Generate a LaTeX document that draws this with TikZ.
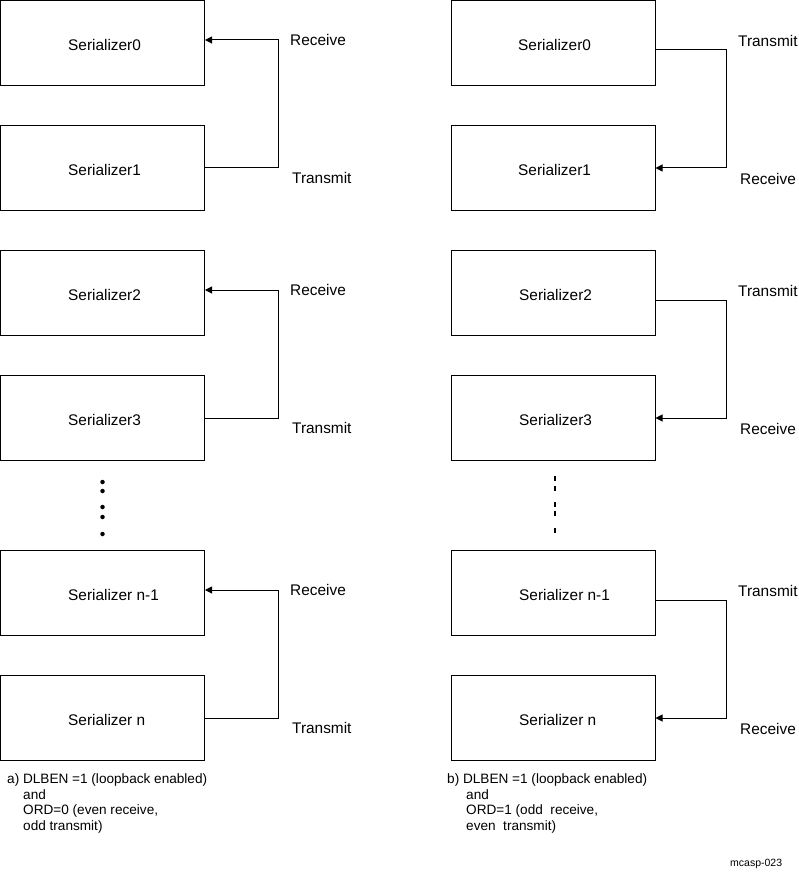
\documentclass[tikz,border=0pt]{standalone}
\usepackage{fontspec}
\setmainfont{Liberation Sans}
\usetikzlibrary{arrows.meta}
\begin{document}
\begin{tikzpicture}[x=1pt,y=-1pt,
  sbox/.style={draw, line width=1pt, minimum width=204pt, minimum height=85pt, inner sep=0pt},
  stxt/.style={anchor=west, inner sep=0pt, font=\fontsize{15.4}{18}\selectfont},
  lbl/.style={anchor=west, inner sep=0pt, font=\fontsize{15.4}{18}\selectfont},
  conn/.style={line width=1pt},
  arr/.style={conn, -{Triangle[length=7pt,width=7pt]}},
  capt/.style={anchor=base west, inner sep=0pt, font=\fontsize{13.6}{16}\selectfont},
  dotc/.style={fill, circle, inner sep=0pt, minimum size=4.5pt},
  dotr/.style={fill, rectangle, inner sep=0pt, minimum width=2.6pt, minimum height=5pt},
]
\useasboundingbox (0,0) rectangle (798,874);

% left column
\node[sbox] (La) at (102.5,43) {};
\node[sbox] (Lb) at (102.5,168) {};
\node[sbox] (Lc) at (102.5,293) {};
\node[sbox] (Ld) at (102.5,418) {};
\node[sbox] (Le) at (102.5,593) {};
\node[sbox] (Lf) at (102.5,718) {};
\node[stxt] (tLa) at (68,44.5) {Serializer0};
\node[stxt] (tLb) at (68,169.5) {Serializer1};
\node[stxt] (tLc) at (68,294.5) {Serializer2};
\node[stxt] (tLd) at (68,419.5) {Serializer3};
\node[stxt] (tLe) at (68,594.5) {Serializer n-1};
\node[stxt] (tLf) at (68,719.5) {Serializer n};

% right column
\node[sbox] (Ra) at (553,43) {};
\node[sbox] (Rb) at (553,168) {};
\node[sbox] (Rc) at (553,293) {};
\node[sbox] (Rd) at (553,418) {};
\node[sbox] (Re) at (553,593) {};
\node[sbox] (Rf) at (553,718) {};
\node[stxt] (tRa) at (518,44.5) {Serializer0};
\node[stxt] (tRb) at (518,169.5) {Serializer1};
\node[stxt] (tRc) at (519,294.5) {Serializer2};
\node[stxt] (tRd) at (519,419.5) {Serializer3};
\node[stxt] (tRe) at (519,594.5) {Serializer n-1};
\node[stxt] (tRf) at (519,719.5) {Serializer n};

% left connectors
\draw[arr] (Lb.east) -- ++(73.5,0) |- ([yshift=3pt]La.east);
\draw[arr] (Ld.east) -- ++(73.5,0) |- ([yshift=3pt]Lc.east);
\draw[arr] (Lf.east) -- ++(73.5,0) |- ([yshift=3pt]Le.east);

% right connectors
\draw[arr] ([yshift=-7pt]Ra.east) -- ++(71,0) |- (Rb.east);
\draw[arr] ([yshift=-7pt]Rc.east) -- ++(71,0) |- (Rd.east);
\draw[arr] ([yshift=-7pt]Re.east) -- ++(71,0) |- (Rf.east);

% labels
\foreach \o/\n in {0/a,250/b,550/c}{
  \node[lbl] (LR\n) at (290,40+\o) {Receive};
  \node[lbl] (LT\n) at (292,178+\o) {Transmit};
  \node[lbl] (RT\n) at (738,41+\o) {Transmit};
  \node[lbl] (RR\n) at (740,179+\o) {Receive};
}

% dots
\foreach \y [count=\i] in {482,491,507,517,534}{
  \node[dotc] (ld\i) at (102.5,\y) {};
}
\foreach \y [count=\i] in {478,488,504,513,530}{
  \node[dotr] (rd\i) at (555,\y) {};
}

% captions
\node[capt] (ca1) at (7,783) {a) DLBEN =1 (loopback enabled)};
\node[capt] (ca2) at (23,799) {and};
\node[capt] (ca3) at (23,814.5) {ORD=0 (even receive,};
\node[capt] (ca4) at (23,830) {odd transmit)};

\node[capt] (cb1) at (447,783) {b) DLBEN =1 (loopback enabled)};
\node[capt] (cb2) at (466,799) {and};
\node[capt] (cb3) at (466,814.5) {ORD=1 (odd\ \ receive,};
\node[capt] (cb4) at (466,830) {even\ \ transmit)};

\node[capt, font=\fontsize{10.5}{12}\selectfont] (id) at (730,866) {mcasp-023};
\end{tikzpicture}
\end{document}
